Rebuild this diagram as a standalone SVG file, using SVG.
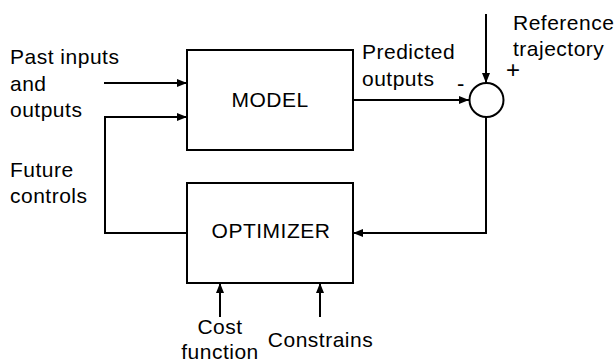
<svg xmlns="http://www.w3.org/2000/svg" width="615" height="362" viewBox="0 0 615 362">
  <style>
    .box { fill: #ffffff; stroke: #000000; stroke-width: 2; }
    .wire { fill: none; stroke: #000000; stroke-width: 2; }
    text { font-family: "Liberation Sans", Arial, Helvetica, sans-serif; font-size: 21px; letter-spacing: 0.5px; fill: #000000; }
    .mid { text-anchor: middle; }
    .minus { letter-spacing: 0; font-size: 22px; }
    .plus { letter-spacing: 0; font-size: 24px; }
  </style>
  <defs>
    <marker id="arrow" viewBox="0 0 10 8" refX="10" refY="4" markerWidth="10" markerHeight="8" markerUnits="userSpaceOnUse" orient="auto">
      <path d="M0,0 L10,4 L0,8 Z" fill="#000000"/>
    </marker>
  </defs>

  <rect width="615" height="362" fill="#ffffff"/>

  <!-- connectors -->
  <g id="connectors">
    <line class="wire" x1="104" y1="83" x2="187" y2="83" marker-end="url(#arrow)"/>
    <path class="wire" d="M187,233 H105 V117 H187" marker-end="url(#arrow)"/>
    <line class="wire" x1="353" y1="100" x2="469" y2="100" marker-end="url(#arrow)"/>
    <line class="wire" x1="486" y1="14" x2="486" y2="83" marker-end="url(#arrow)"/>
    <path class="wire" d="M486,117 V233 H353" marker-end="url(#arrow)"/>
    <line class="wire" x1="220" y1="317" x2="220" y2="283" marker-end="url(#arrow)"/>
    <line class="wire" x1="320" y1="317" x2="320" y2="283" marker-end="url(#arrow)"/>
  </g>

  <g id="model">
    <rect class="box" x="187" y="50" width="166" height="100"/>
    <text class="mid" x="270" y="107">MODEL</text>
  </g>

  <g id="optimizer">
    <rect class="box" x="187" y="183" width="166" height="100"/>
    <text class="mid" x="271" y="238">OPTIMIZER</text>
  </g>

  <g id="summing-junction">
    <circle class="box" cx="486.5" cy="100" r="17"/>
    <text class="minus" x="457" y="90.5">-</text>
    <text class="plus" x="506" y="77.5">+</text>
  </g>

  <g id="labels">
    <text x="10" y="64">Past inputs</text>
    <text x="10" y="90.5">and</text>
    <text x="10" y="117">outputs</text>
    <text x="10" y="177">Future</text>
    <text x="10" y="203">controls</text>
    <text x="362" y="59">Predicted</text>
    <text x="362" y="86">outputs</text>
    <text x="513" y="29.5">Reference</text>
    <text x="513" y="56">trajectory</text>
    <text class="mid" x="220" y="334">Cost</text>
    <text class="mid" x="220" y="359">function</text>
    <text class="mid" x="320.5" y="347">Constrains</text>
  </g>
</svg>
